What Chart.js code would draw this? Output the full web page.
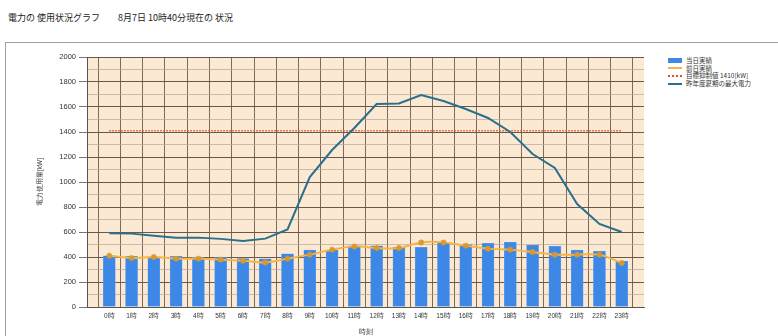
<!DOCTYPE html>
<html lang="ja">
<head>
<meta charset="UTF-8">
<title>電力の使用状況グラフ</title>
<style>
    body {
        margin: 0;
        background: #ffffff;
        font-family: "Noto Sans CJK JP", sans-serif;
        width: 778px;
        height: 336px;
        overflow: hidden;
        position: relative;
    }
    .title {
        position: absolute;
        left: 8px;
        top: 11px;
        font-size: 9px;
        color: #222;
        white-space: pre;
    }
    .frame {
        position: absolute;
        left: 5px;
        top: 42px;
        width: 800px;
        height: 320px;
        border: 1px solid #a0a0a0;
    }
    .chart-box {
        position: absolute;
        left: 0;
        top: 42px;
        width: 660px;
        height: 294px;
    }
    .legend {
        position: absolute;
        left: 668px;
        top: 57px;
        font-size: 6.5px;
        color: #333;
        line-height: 7.6px;
    }
    .legend div {
        display: flex;
        align-items: center;
    }
    .legend .sw {
        width: 14px;
        height: 5px;
        margin-right: 4px;
        box-sizing: border-box;
    }
</style>
<script src="https://cdn.jsdelivr.net/npm/chart.js"></script>
</head>
<body>
<div class="title">電力の 使用状況グラフ　　8月7日 10時40分現在の 状況</div>
<div class="frame"></div>
<div class="chart-box"><canvas id="myChart"></canvas></div>
<div class="legend" id="legend"></div>

<script>
    // 時刻
    const hours = ['0時', '1時', '2時', '3時', '4時', '5時', '6時', '7時', '8時', '9時', '10時', '11時',
                   '12時', '13時', '14時', '15時', '16時', '17時', '18時', '19時', '20時', '21時', '22時', '23時'];

    const todayValues = [410, 405, 400, 405, 395, 400, 387, 385, 425, 455, 455, 490,
                         490, 480, 477, 515, 500, 510, 520, 495, 485, 455, 445, 365];

    const yesterdayValues = [410, 392, 400, 387, 387, 379, 371, 357, 387, 419, 459, 485,
                             472, 472, 517, 517, 491, 467, 459, 440, 419, 419, 419, 352];

    const targetValue = 1410;

    const lastSummerMax = [590, 587, 570, 555, 555, 545, 528, 547, 620, 1040, 1256, 1432,
                           1624, 1628, 1696, 1648, 1584, 1512, 1400, 1224, 1112, 824, 664, 600];

    const seriesNames = ['当日実績', '前日実績', '目標抑制値 1410[kW]', '昨年度夏期の最大電力'];

    const yTicks = [0, 200, 400, 600, 800, 1000, 1200, 1400, 1600, 1800, 2000];

    const toXY = arr => arr.map((v, i) => ({ x: i, y: v }));

    // 背景
    const plotBg = {
        id: 'plotBg',
        beforeDraw(chart) {
            const a = chart.chartArea;
            const ctx = chart.ctx;
            ctx.save();
            ctx.fillStyle = '#fbe9d4';
            ctx.fillRect(a.left, a.top, a.right - a.left, a.bottom - a.top);
            ctx.restore();
        }
    };

    const ctx = document.getElementById('myChart').getContext('2d');
    const myChart = new Chart(ctx, {
        type: 'bar',
        data: {
            datasets: [
                {
                    type: 'bar',
                    label: seriesNames[0],
                    data: toXY(todayValues),
                    backgroundColor: '#3d88e6',
                    borderColor: '#6aa6ee',
                    borderWidth: 0.5,
                    barThickness: 12,
                    order: 5
                },
                {
                    type: 'line',
                    label: seriesNames[1],
                    data: toXY(yesterdayValues),
                    borderColor: '#f5b443',
                    backgroundColor: '#e8a52e',
                    borderWidth: 2,
                    tension: 0.3,
                    pointStyle: 'star',
                    pointRadius: 3,
                    pointBorderColor: '#d99a2a',
                    pointBorderWidth: 1.5,
                    order: 3
                },
                {
                    type: 'line',
                    label: seriesNames[2],
                    data: toXY(hours.map(() => targetValue)),
                    borderColor: '#e2541f',
                    borderWidth: 1.5,
                    borderDash: [1.5, 1.5],
                    pointRadius: 0,
                    order: 2
                },
                {
                    type: 'line',
                    label: seriesNames[3],
                    data: toXY(lastSummerMax),
                    borderColor: '#2b6f8c',
                    borderWidth: 2,
                    tension: 0,
                    pointRadius: 0,
                    order: 1
                }
            ]
        },
        options: {
            responsive: true,
            maintainAspectRatio: false,
            animation: false,
            layout: { padding: { left: 36, top: 15, right: 16, bottom: 0 } },
            plugins: {
                legend: { display: false },
                tooltip: { enabled: false }
            },
            scales: {
                x: {
                    type: 'linear',
                    min: -1,
                    max: 24,
                    offset: false,
                    ticks: {
                        stepSize: 1,
                        autoSkip: false,
                        maxRotation: 0,
                        font: { size: 6.5 },
                        color: '#333',
                        padding: 5,
                        callback: v => (v >= 0 && v < hours.length) ? hours[v] : ''
                    },
                    grid: {
                        color: '#5a4a3c',
                        lineWidth: 0.8,
                        drawTicks: false
                    },
                    border: { color: '#555', width: 1 },
                    title: {
                        display: true,
                        text: '時刻',
                        font: { size: 7 },
                        color: '#333',
                        padding: { top: 1, bottom: 0 }
                    },
                    afterFit: s => { s.height = 29; }
                },
                y: {
                    min: 0,
                    max: 2000,
                    ticks: {
                        stepSize: 100,
                        font: { size: 7.5 },
                        color: '#333',
                        padding: 3,
                        callback: v => yTicks.includes(v) ? String(v) : ''
                    },
                    grid: {
                        color: c => (c.tick && c.tick.value % 200 === 0) ? '#6b5848' : '#b8a692',
                        lineWidth: c => (c.tick && c.tick.value % 200 === 0) ? 1 : 0.7,
                        tickColor: c => (c.tick && c.tick.value % 200 === 0) ? '#777' : 'rgba(0,0,0,0)',
                        tickLength: 8
                    },
                    border: { color: '#555', width: 1 },
                    title: {
                        display: true,
                        text: '電力使用量[kW]',
                        font: { size: 6.5 },
                        color: '#333',
                        padding: { top: 0, bottom: 0 }
                    },
                    afterFit: s => { s.width = 51; }
                }
            }
        },
        plugins: [plotBg]
    });

    // 凡例
    const legendStyles = [
        'background:#3d88e6;',
        'height:2px;background:#f5b443;',
        'height:2px;border-top:2px dotted #e2541f;',
        'height:2px;background:#2b6f8c;'
    ];
    const legendEl = document.getElementById('legend');
    seriesNames.forEach((name, i) => {
        const row = document.createElement('div');
        row.innerHTML = '<span class="sw" style="' + legendStyles[i] + '"></span><span>' + name + '</span>';
        legendEl.appendChild(row);
    });
</script>
</body>
</html>
